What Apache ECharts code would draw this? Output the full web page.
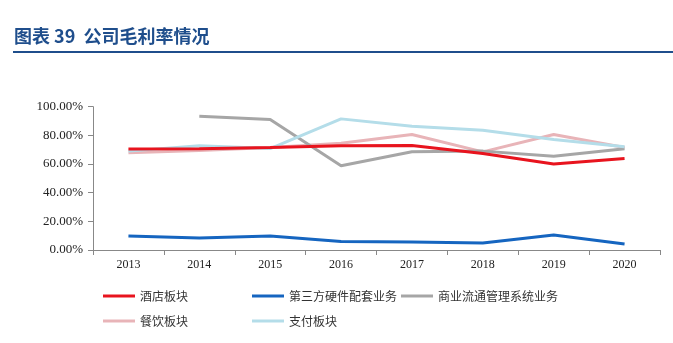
<!DOCTYPE html>
<html><head><meta charset="utf-8">
<script src="https://cdn.jsdelivr.net/npm/echarts@6/dist/echarts.min.js"></script>
<style>html,body{margin:0;padding:0;background:#fff}#c{width:673px;height:343px}</style>
</head><body><div id="c"></div>
<script>
const years = ['2013','2014','2015','2016','2017','2018','2019','2020'];
const hotel = [70.4, 70.6, 71.5, 72.7, 73.0, 67.4, 60.0, 63.9];
const hardware = [9.7, 8.4, 9.7, 6.0, 5.6, 4.9, 10.4, 4.2];
const retail = [null, 93.4, 91.0, 58.8, 68.5, 69.0, 65.5, 70.6];
const catering = [67.8, 69.4, 71.5, 74.5, 80.6, 68.5, 80.6, 71.5];
const payment = [69.0, 72.7, 70.8, 91.5, 86.4, 83.6, 77.1, 72.0];
const yTicks = [0, 20, 40, 60, 80, 100];

const names = ['酒店板块','第三方硬件配套业务','商业流通管理系统业务','餐饮板块','支付板块'];
const colors = ['#E8141E','#1565C0','#A6A6A6','#E8B4B8','#B4DDE9'];
const datas = [hotel, hardware, retail, catering, payment];
const legendPos = [[98,285],[247,285],[396,285],[98,310],[247,310]];

const chart = echarts.init(document.getElementById('c'));
chart.setOption({
  animation:false,
  title:{text:'图表 39  公司毛利率情况', left:9, top:22,
    textStyle:{fontFamily:'Noto Sans CJK SC', fontWeight:'bold', fontSize:18, color:'#1F4E8C'}},
  graphic:[{type:'rect', shape:{x:13,y:51,width:660,height:2}, style:{fill:'#1F4E8C'}}],
  legend: names.map((n,i)=>({data:[n], left:legendPos[i][0], top:legendPos[i][1], itemWidth:32, itemHeight:3, itemGap:0,
    icon:'rect', textStyle:{fontFamily:'Noto Sans CJK SC', fontSize:12, color:'#333'}})),
  grid:{left:93, right:13, top:106.7, bottom:93, containLabel:false},
  xAxis:{type:'category', data:years, boundaryGap:true,
    axisLine:{lineStyle:{color:'#888'}}, axisTick:{show:true, lineStyle:{color:'#888'}},
    axisLabel:{fontFamily:'Liberation Serif', fontSize:12, color:'#222', margin:9}},
  yAxis:{type:'value', min:0, max:100, interval:20,
    axisLine:{show:true, lineStyle:{color:'#888'}}, axisTick:{show:true, lineStyle:{color:'#888'}},
    splitLine:{show:false},
    axisLabel:{fontFamily:'Liberation Serif', fontSize:13, color:'#222', margin:10,
      formatter:v=>v.toFixed(2)+'%'}},
  series: names.map((n,i)=>({name:n, type:'line', data:datas[i], showSymbol:false, symbol:'none',
    lineStyle:{width:3, color:colors[i]}, itemStyle:{color:colors[i]}, connectNulls:false,
    z: [5,5,3,2,4][i]}))
});
</script></body></html>
